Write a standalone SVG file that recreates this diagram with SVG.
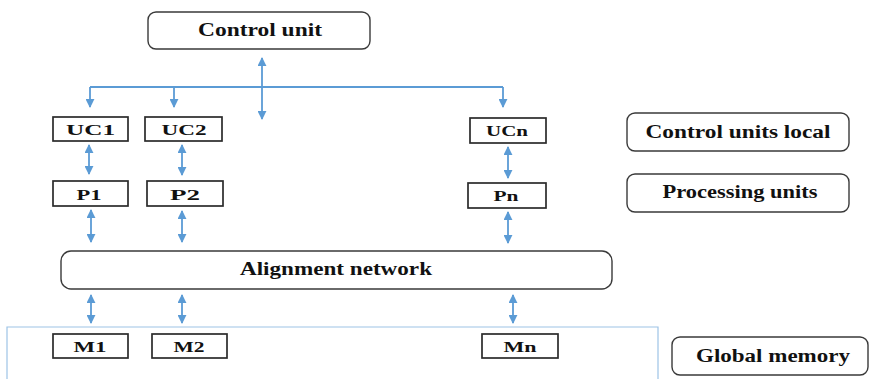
<svg xmlns="http://www.w3.org/2000/svg" width="870" height="379" viewBox="0 0 870 379">
  <style>
    .box { fill: #ffffff; stroke: #2b2b2b; stroke-width: 1.7; }
    .rbox { fill: #ffffff; stroke: #3a3a3a; stroke-width: 1.4; }
    .lbl { font-family: "Liberation Serif", "Times New Roman", serif; font-weight: bold; fill: #111111; text-anchor: middle; }
    .big { font-size: 18px; }
    .small { font-size: 14.5px; }
    .wire { fill: none; stroke: #5b9bd5; stroke-width: 1.8; }
    .thin { fill: none; stroke: #9dc3e6; stroke-width: 1.2; }
  </style>
  <defs>
    <marker id="head" viewBox="0 0 10 10" refX="9" refY="5" markerWidth="5" markerHeight="5" orient="auto-start-reverse" markerUnits="strokeWidth">
      <path d="M0,0 L10,5 L0,10 z" fill="#5b9bd5"/>
    </marker>
  </defs>

  <rect width="870" height="379" fill="#ffffff"/>

  <!-- global memory frame -->
  <path class="thin" d="M7,379 L7,327 L658,327 L658,379"/>

  <g id="connectors">
    <!-- control bus -->
    <line class="wire" x1="262" y1="58" x2="262" y2="119" marker-start="url(#head)" marker-end="url(#head)"/>
    <path class="wire" d="M90,87 L503,87"/>
    <line class="wire" x1="90" y1="87" x2="90" y2="107" marker-end="url(#head)"/>
    <line class="wire" x1="174" y1="87" x2="174" y2="107" marker-end="url(#head)"/>
    <line class="wire" x1="503" y1="87" x2="503" y2="107" marker-end="url(#head)"/>
    <!-- UC to P -->
    <line class="wire" x1="89" y1="145" x2="89" y2="174" marker-start="url(#head)" marker-end="url(#head)"/>
    <line class="wire" x1="182" y1="145" x2="182" y2="175" marker-start="url(#head)" marker-end="url(#head)"/>
    <line class="wire" x1="508" y1="147" x2="508" y2="178" marker-start="url(#head)" marker-end="url(#head)"/>
    <!-- P to network -->
    <line class="wire" x1="91" y1="210" x2="91" y2="242" marker-start="url(#head)" marker-end="url(#head)"/>
    <line class="wire" x1="182" y1="211" x2="182" y2="242" marker-start="url(#head)" marker-end="url(#head)"/>
    <line class="wire" x1="508" y1="212" x2="508" y2="243" marker-start="url(#head)" marker-end="url(#head)"/>
    <!-- network to memory -->
    <line class="wire" x1="91" y1="295" x2="91" y2="323" marker-start="url(#head)" marker-end="url(#head)"/>
    <line class="wire" x1="182" y1="295" x2="182" y2="323" marker-start="url(#head)" marker-end="url(#head)"/>
    <line class="wire" x1="513" y1="295" x2="513" y2="323" marker-start="url(#head)" marker-end="url(#head)"/>
  </g>

  <g id="control-unit">
    <rect class="rbox" x="148" y="12" width="222" height="37" rx="8"/>
    <text class="lbl big" x="260" y="35.5" textLength="124" lengthAdjust="spacingAndGlyphs">Control unit</text>
  </g>

  <g id="uc1">
    <rect class="box" x="53" y="117" width="75" height="24"/>
    <text class="lbl small" x="90.5" y="134.5" textLength="49" lengthAdjust="spacingAndGlyphs">UC1</text>
  </g>
  <g id="uc2">
    <rect class="box" x="145" y="117" width="77" height="24"/>
    <text class="lbl small" x="184" y="134.5" textLength="45" lengthAdjust="spacingAndGlyphs">UC2</text>
  </g>
  <g id="ucn">
    <rect class="box" x="470" y="118" width="76" height="25"/>
    <text class="lbl small" x="507" y="136" textLength="42" lengthAdjust="spacingAndGlyphs">UCn</text>
  </g>

  <g id="p1">
    <rect class="box" x="53" y="181" width="75" height="25"/>
    <text class="lbl small" x="89" y="199.5" textLength="25" lengthAdjust="spacingAndGlyphs">P1</text>
  </g>
  <g id="p2">
    <rect class="box" x="147" y="181" width="76" height="25"/>
    <text class="lbl small" x="185" y="199.5" textLength="30" lengthAdjust="spacingAndGlyphs">P2</text>
  </g>
  <g id="pn">
    <rect class="box" x="468" y="183" width="78" height="25"/>
    <text class="lbl small" x="506" y="200.5" textLength="25" lengthAdjust="spacingAndGlyphs">Pn</text>
  </g>

  <g id="alignment-network">
    <rect class="rbox" x="61" y="251" width="551" height="38" rx="10"/>
    <text class="lbl big" x="336" y="274.5" textLength="192" lengthAdjust="spacingAndGlyphs">Alignment network</text>
  </g>

  <g id="m1">
    <rect class="box" x="53" y="334" width="75" height="24"/>
    <text class="lbl small" x="90" y="352" textLength="33" lengthAdjust="spacingAndGlyphs">M1</text>
  </g>
  <g id="m2">
    <rect class="box" x="152" y="334" width="75" height="24"/>
    <text class="lbl small" x="189" y="352" textLength="31" lengthAdjust="spacingAndGlyphs">M2</text>
  </g>
  <g id="mn">
    <rect class="box" x="482" y="334" width="76" height="24"/>
    <text class="lbl small" x="520" y="351.5" textLength="33" lengthAdjust="spacingAndGlyphs">Mn</text>
  </g>

  <g id="legend-control-units-local">
    <rect class="rbox" x="627" y="113" width="222" height="38" rx="8"/>
    <text class="lbl big" x="738" y="137.5" textLength="185" lengthAdjust="spacingAndGlyphs">Control units local</text>
  </g>
  <g id="legend-processing-units">
    <rect class="rbox" x="627" y="174" width="222" height="38" rx="8"/>
    <text class="lbl big" x="740" y="197.5" textLength="155" lengthAdjust="spacingAndGlyphs">Processing units</text>
  </g>
  <g id="legend-global-memory">
    <rect class="rbox" x="672" y="337" width="196" height="38" rx="8"/>
    <text class="lbl big" x="773" y="361.5" textLength="154" lengthAdjust="spacingAndGlyphs">Global memory</text>
  </g>
</svg>
